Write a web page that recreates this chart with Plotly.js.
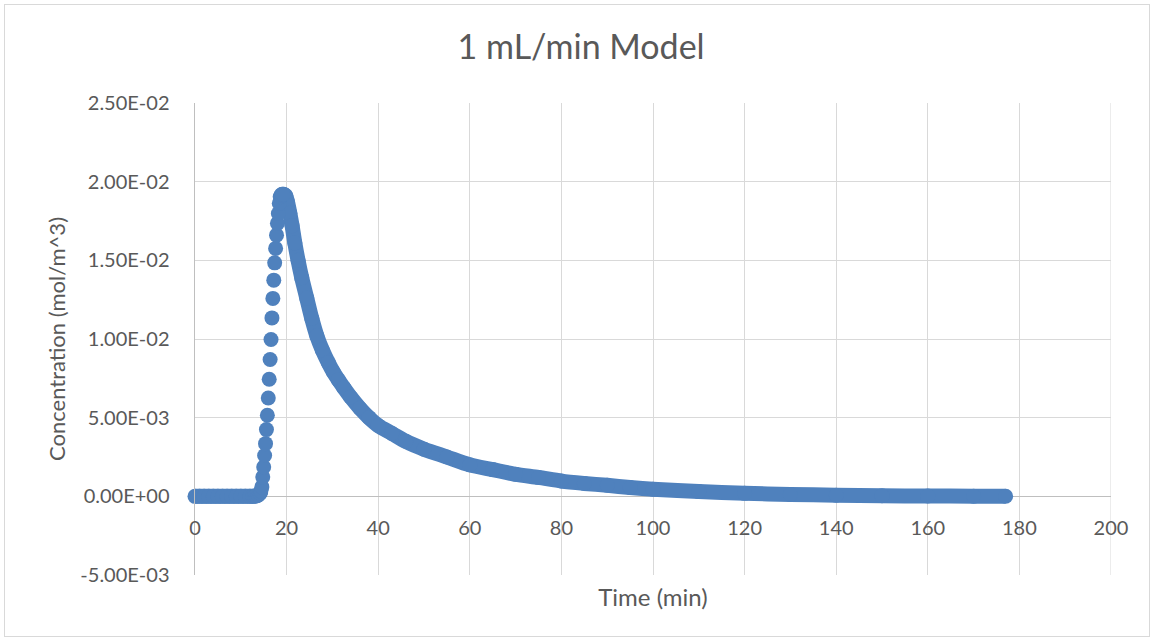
<!DOCTYPE html>
<html>
<head>
<meta charset="utf-8">
<script src="https://cdn.plot.ly/plotly-3.0.1.min.js"></script>
<style>
  html, body { margin: 0; padding: 0; background: #ffffff; overflow: hidden; }
  #chart { position: absolute; left: 0; top: 0; width: 1153px; height: 640px; }
  #frame { position: absolute; left: 4px; top: 4px; width: 1144px; height: 631px;
           border: 1px solid #d9d9d9; pointer-events: none; }
</style>
</head>
<body>
<div id="chart"></div>
<div id="frame"></div>
<script>
// Outlet concentration for the 1 mL/min model run (time in min, concentration in mol/m^3)

// Flat baseline before breakthrough
const baselineTime = [0, 1, 2, 3, 4, 5, 6, 7, 8, 9, 10, 11, 12, 12.6, 13.0, 13.4, 13.8, 14.2, 14.4];
const baselineConc = [0, 0, 0, 0, 0, 0, 0, 0, 0, 0, 0, 0, 0, 0, 0.00001, 0.00003, 0.00008, 0.0002, 0.00035];

// Steep rise up to the peak
const riseTime = [14.6, 14.8, 15.0, 15.2, 15.4, 15.6, 15.8, 16.0, 16.2, 16.4, 16.6, 16.8,
                  17.0, 17.2, 17.4, 17.6, 17.8, 18.0, 18.2, 18.4, 18.6, 18.8, 19.0, 19.2];
const riseConc = [0.0006, 0.00123, 0.00186, 0.0026, 0.00335, 0.00424, 0.00515, 0.00625,
                  0.00744, 0.0087, 0.00997, 0.01134, 0.01258, 0.01374, 0.01484, 0.01576,
                  0.0166, 0.01735, 0.01798, 0.01862, 0.01904, 0.01915, 0.0192, 0.0192];

// Decay tail after the peak
const decayTime = [19.4, 19.8, 20.2, 20.7, 21.2, 21.8, 22.5, 23.3, 24.4, 25.5, 26.6, 27.8,
                   29.1, 30.2, 31.3, 32.5, 34, 36, 38, 40, 43, 46, 50, 55, 60, 65, 70, 75,
                   80, 85, 90, 95, 100, 110, 120, 130, 140, 150, 160, 170, 177];
const decayConc = [0.0192, 0.0191, 0.0187, 0.0180, 0.0172, 0.0161, 0.0150, 0.0139, 0.0126,
                   0.0113, 0.0102, 0.0093, 0.0085, 0.0079, 0.0074, 0.0069, 0.0063, 0.0056,
                   0.0050, 0.0045, 0.0040, 0.0035, 0.0030, 0.0025, 0.0020, 0.0017, 0.0014,
                   0.0012, 0.00097, 0.00082, 0.0007, 0.00056, 0.00045, 0.0003, 0.00019,
                   0.00012, 0.00007, 0.00004, 0.00002, 0.00001, 0.00001];

// Axis ticks
const xTickVals = [0, 20, 40, 60, 80, 100, 120, 140, 160, 180, 200];
const xTickText = ['0', '20', '40', '60', '80', '100', '120', '140', '160', '180', '200'];
const yTickVals = [-0.005, 0, 0.005, 0.01, 0.015, 0.02, 0.025];
const yTickText = ['-5.00E-03', '0.00E+00', '5.00E-03', '1.00E-02', '1.50E-02', '2.00E-02', '2.50E-02'];

const blue = '#4f81bd';
const textGray = '#595959';
const fontFamily = 'Lato, "Open Sans", sans-serif';
const markerSize = 15;

const traces = [
  {
    x: baselineTime, y: baselineConc, type: 'scatter', mode: 'lines+markers',
    line: { color: blue, width: markerSize, shape: 'spline', smoothing: 0.6 },
    marker: { color: blue, size: markerSize },
    cliponaxis: false, showlegend: false, hoverinfo: 'x+y'
  },
  {
    x: decayTime, y: decayConc, type: 'scatter', mode: 'lines+markers',
    line: { color: blue, width: markerSize, shape: 'spline', smoothing: 0.8 },
    marker: { color: blue, size: markerSize },
    cliponaxis: false, showlegend: false, hoverinfo: 'x+y'
  },
  {
    // drawn on the overlay axis that carries the tick labels along the zero line
    x: riseTime, y: riseConc, xaxis: 'x2', type: 'scatter', mode: 'markers',
    marker: { color: blue, size: markerSize },
    cliponaxis: false, showlegend: false, hoverinfo: 'x+y'
  }
];

const gridGray = '#d9d9d9';
const axisGray = '#bfbfbf';

const layout = {
  width: 1153,
  height: 640,
  paper_bgcolor: '#ffffff',
  plot_bgcolor: '#ffffff',
  margin: { l: 195, r: 42, t: 103, b: 65 },
  font: { family: fontFamily, color: textGray },
  title: {
    text: '1 mL/min Model',
    font: { family: fontFamily, size: 34, color: textGray },
    x: 0.504, xref: 'container', xanchor: 'center',
    y: 0.927, yref: 'container', yanchor: 'middle'
  },
  // Bottom axis: vertical grid and the axis title
  xaxis: {
    range: [0, 200],
    tickvals: xTickVals,
    showticklabels: false,
    ticks: '',
    showgrid: true, gridcolor: gridGray, gridwidth: 1,
    zeroline: false,
    showline: false,
    title: { text: 'Time (min)', font: { family: fontFamily, size: 24, color: textGray }, standoff: 14 }
  },
  // Tick labels sitting on the zero line
  xaxis2: {
    overlaying: 'x', matches: 'x',
    anchor: 'free', position: 1 / 6,
    range: [0, 200],
    tickvals: xTickVals, ticktext: xTickText,
    ticks: '', ticklabelstandoff: 18,
    tickfont: { family: fontFamily, size: 20, color: textGray },
    showgrid: false, zeroline: false, showline: false
  },
  yaxis: {
    range: [-0.005, 0.025],
    tickvals: yTickVals, ticktext: yTickText,
    ticks: '', ticklabelstandoff: 20,
    tickfont: { family: fontFamily, size: 20, color: textGray },
    showgrid: true, gridcolor: gridGray, gridwidth: 1,
    zeroline: true, zerolinecolor: axisGray, zerolinewidth: 1.5,
    showline: true, linecolor: axisGray, linewidth: 1.5,
    title: { text: 'Concentration (mol/m^3)', font: { family: fontFamily, size: 22, color: textGray }, standoff: 8 }
  },
  // right-hand grid line at the end of the time range
  shapes: [
    { type: 'line', xref: 'x', yref: 'paper', x0: 200, x1: 200, y0: 0, y1: 1,
      line: { color: gridGray, width: 1 }, layer: 'below' }
  ]
};

Plotly.newPlot('chart', traces, layout, { displayModeBar: false, staticPlot: true });
</script>
</body>
</html>
